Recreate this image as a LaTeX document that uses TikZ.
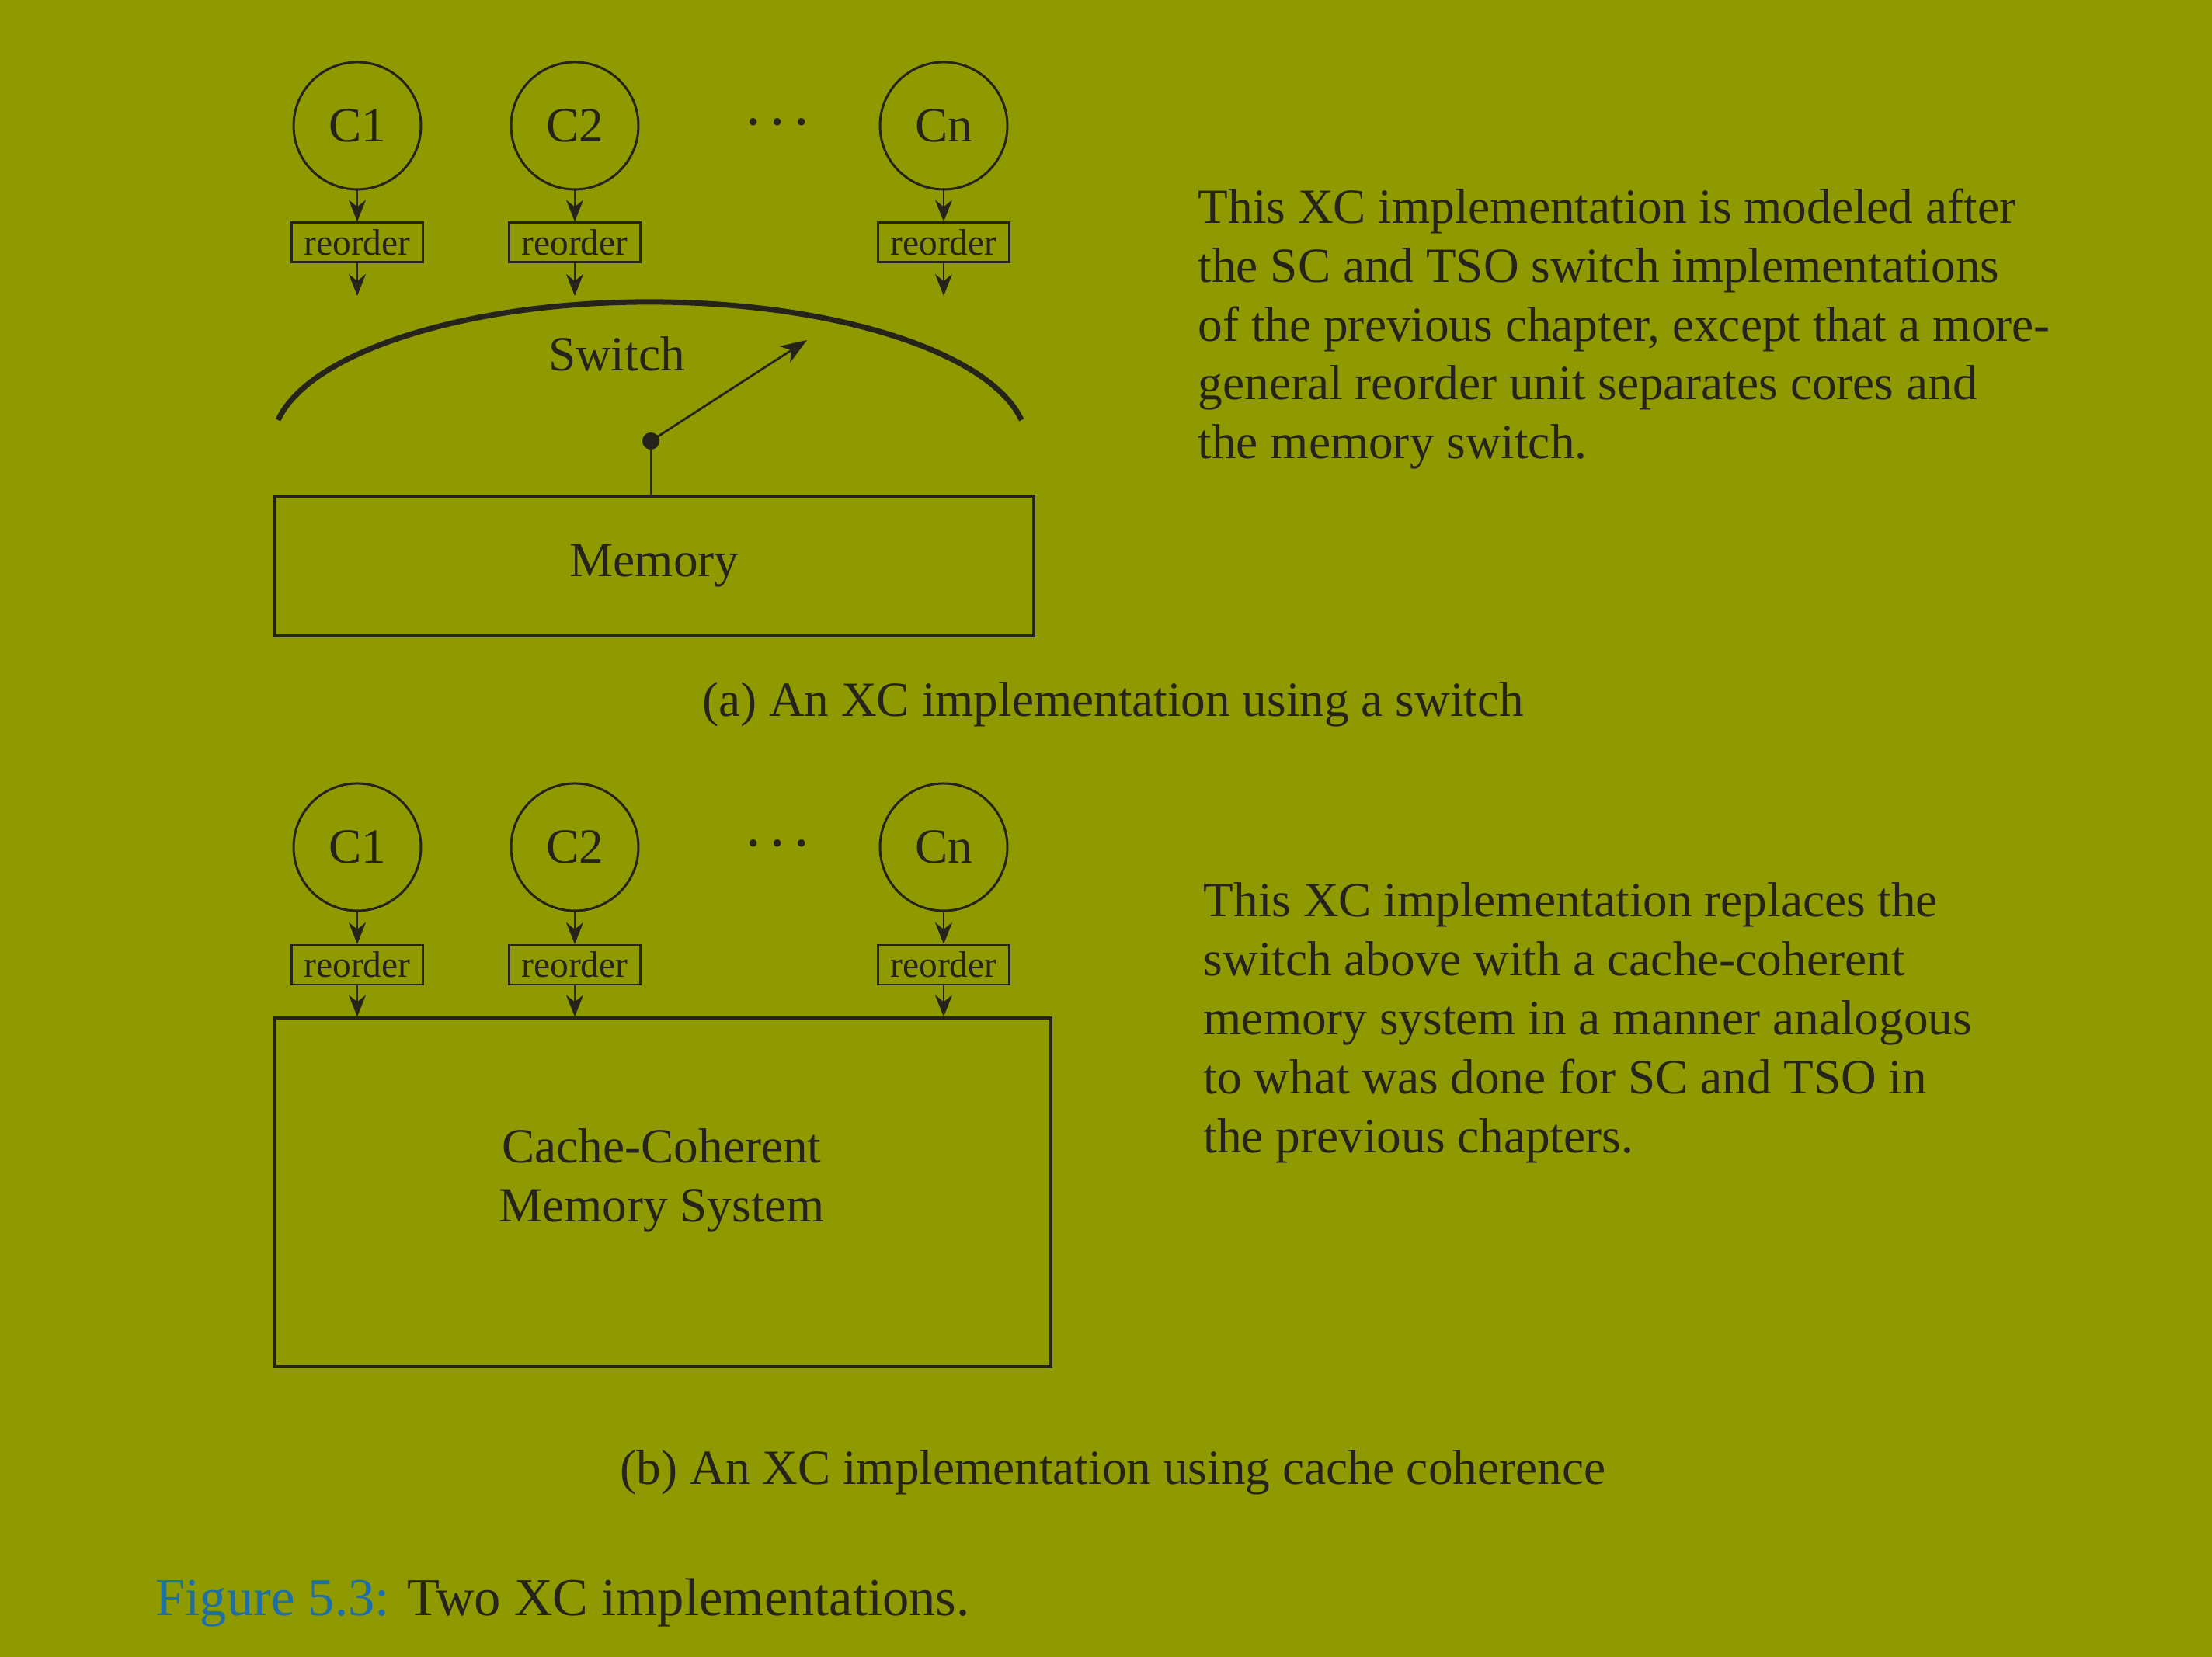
\documentclass[tikz,border=0pt]{standalone}
\usepackage{fontspec}
\setmainfont{Liberation Serif}
\usepackage{tikz}
\usetikzlibrary{arrows.meta,positioning,calc}
\definecolor{Olive}{HTML}{8F9900}
\definecolor{Ink}{HTML}{26241A}
\definecolor{CapBlue}{HTML}{1C6FA8}
\tikzset{
  corearrow/.style={-{Stealth[length=2.8mm,width=2.2mm,inset=0.9mm]}, line width=0.8pt, draw=Ink},
  pointer/.style={-{Stealth[length=3.4mm,width=2.5mm,inset=1mm]}, line width=0.8pt, draw=Ink},
  corenode/.style={circle, draw=Ink, line width=0.85pt, minimum size=1.64cm, inner sep=0pt, text=Ink, font=\fontsize{18}{21.6}\selectfont},
  reordernode/.style={draw=Ink, line width=0.6pt, minimum width=1.69cm, minimum height=0.51cm, inner sep=0pt, text=Ink, font=\fontsize{13.5}{16}\selectfont},
  boxnode/.style={draw=Ink, line width=0.9pt, inner sep=0pt, text=Ink, align=center, font=\fontsize{18}{21.6}\selectfont},
  pivotdot/.style={circle, fill=Ink, minimum size=0.22cm, inner sep=0pt},
  switcharc/.style={draw=Ink, line width=2pt},
  dotsnode/.style={text=Ink, font=\fontsize{18}{21.6}\selectfont\boldmath},
  paratext/.style={anchor=north west, align=left, inner sep=0pt, text=Ink, font=\fontsize{18}{21.6}\selectfont},
  captext/.style={anchor=base, inner sep=0pt, text=Ink, font=\fontsize{18}{21.6}\selectfont},
}

\begin{document}
\begin{tikzpicture}[x=1cm,y=1cm]
\path[use as bounding box] (0,0) rectangle (28.48,21.34);
\fill[Olive] (0,0) rectangle (28.48,21.34);

% (a) switch
\node[corenode] (c1) at (4.6,19.72) {C1};
\node[corenode] (c2) at (7.4,19.72) {C2};
\node[corenode] (cn) at (12.15,19.72) {Cn};
\node[dotsnode] (dots) at (10.01,19.76) {$\cdots$};
\node[reordernode] (r1) at (4.6,18.22) {reorder};
\node[reordernode] (r2) at (7.4,18.22) {reorder};
\node[reordernode] (rn) at (12.15,18.22) {reorder};
\coordinate (s1) at (4.6,17.53);
\coordinate (s2) at (7.4,17.53);
\coordinate (sn) at (12.15,17.53);
\draw[corearrow] (c1) -- (r1);
\draw[corearrow] (c2) -- (r2);
\draw[corearrow] (cn) -- (rn);
\draw[corearrow] (r1) -- (s1);
\draw[corearrow] (r2) -- (s2);
\draw[corearrow] (rn) -- (sn);

\draw[switcharc] (3.58,15.93) arc[start angle=170, end angle=10, x radius=4.86cm, y radius=1.84cm];
\node[text=Ink,font=\fontsize{18}{21.6}\selectfont] (switch) at (7.94,16.78) {Switch};
\node[boxnode,minimum width=9.77cm,minimum height=1.80cm] (mem) at (8.425,14.05) {Memory};
\node[pivotdot] (pivot) at (8.38,15.66) {};
\coordinate (swtip) at (10.39,16.96);
\draw[pointer] (pivot.center) -- (swtip);
\draw[Ink,line width=0.75pt] (pivot) -- (pivot |- mem.north);

\node[paratext] (texta) at (15.42,18.92) {This XC implementation is modeled after\\the SC and TSO switch implementations\\of the previous chapter, except that a more-\\general reorder unit separates cores and\\the memory switch.};
\node[captext] (capa) at (14.33,12.11) {(a) An XC implementation using a switch};

% (b) cache coherence
\node[corenode] (d1) at (4.6,10.43) {C1};
\node[corenode] (d2) at (7.4,10.43) {C2};
\node[corenode] (dn) at (12.15,10.43) {Cn};
\node[dotsnode] (dotsb) at (10.01,10.47) {$\cdots$};
\node[reordernode] (q1) at (4.6,8.915) {reorder};
\node[reordernode] (q2) at (7.4,8.915) {reorder};
\node[reordernode] (qn) at (12.15,8.915) {reorder};
\node[boxnode,minimum width=9.99cm,minimum height=4.49cm] (ccm) at (8.535,5.985) {};
\node[text=Ink,align=center,font=\fontsize{18}{21.6}\selectfont] (ccmtext) at (8.52,6.14) {Cache-Coherent\\Memory System};
\draw[corearrow] (d1) -- (q1);
\draw[corearrow] (d2) -- (q2);
\draw[corearrow] (dn) -- (qn);
\draw[corearrow] (q1) -- (q1 |- ccm.north);
\draw[corearrow] (q2) -- (q2 |- ccm.north);
\draw[corearrow] (qn) -- (qn |- ccm.north);

\node[paratext] (textb) at (15.49,9.98) {This XC implementation replaces the\\switch above with a cache-coherent\\memory system in a manner analogous\\to what was done for SC and TSO in\\the previous chapters.};
\node[captext] (capb) at (14.33,2.22) {(b) An XC implementation using cache coherence};

\node[anchor=base west,inner sep=0pt,font=\fontsize{19.5}{23}\selectfont] (figcap) at (2.0,0.53) {\textcolor{CapBlue}{Figure 5.3:} \textcolor{Ink}{Two XC implementations.}};
\end{tikzpicture}
\end{document}
